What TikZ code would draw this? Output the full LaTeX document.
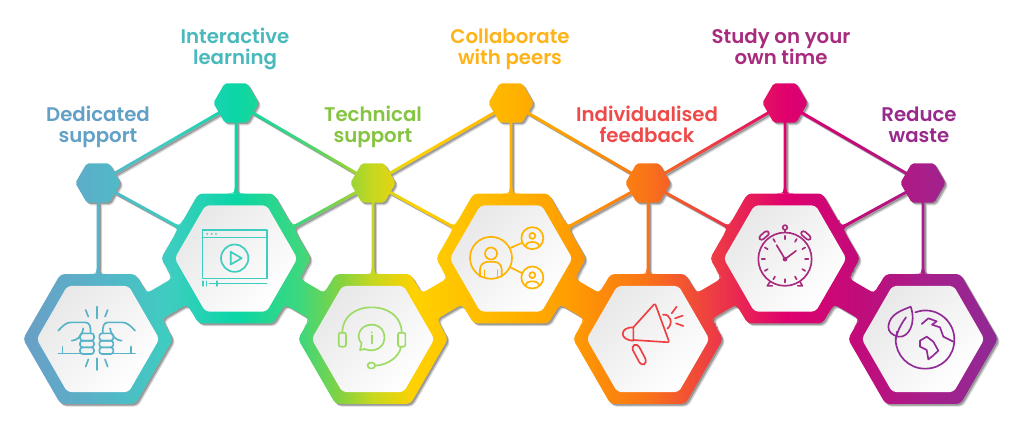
\documentclass[tikz,border=0pt]{standalone}
\usepackage{fontspec}
\newfontfamily\labelfont{Poppins SemiBold}
\usetikzlibrary{calc, shapes.geometric}

% Colours of the band, left to right
\definecolor{bandA}{HTML}{6A9FC6}
\definecolor{bandB}{HTML}{57B3C8}
\definecolor{bandC}{HTML}{3ECDC0}
\definecolor{bandD}{HTML}{0AD6A6}
\definecolor{bandE}{HTML}{3DD77E}
\definecolor{bandF}{HTML}{85D23F}
\definecolor{bandG}{HTML}{C5D820}
\definecolor{bandH}{HTML}{FFD100}
\definecolor{bandI}{HTML}{FFB300}
\definecolor{bandJ}{HTML}{FF9D00}
\definecolor{bandK}{HTML}{F97318}
\definecolor{bandL}{HTML}{EE3F42}
\definecolor{bandM}{HTML}{E0006E}
\definecolor{bandN}{HTML}{C00C7A}
\definecolor{bandO}{HTML}{A81F8A}
\definecolor{bandP}{HTML}{8F2A96}
% Colours of the labels
\definecolor{tagA}{HTML}{62A0C6}
\definecolor{tagB}{HTML}{4AB9BC}
\definecolor{tagC}{HTML}{85C441}
\definecolor{tagD}{HTML}{FFB31A}
\definecolor{tagE}{HTML}{EF4A4A}
\definecolor{tagF}{HTML}{A82C7E}
\definecolor{tagG}{HTML}{982A8C}
\pgfdeclarehorizontalshading{bandgrad}{100bp}{color(0bp)=(bandA); color(25bp)=(bandA);
	color(28.85bp)=(bandB); color(32.5bp)=(bandC); color(35.9bp)=(bandD); color(39.2bp)=(bandE);
	color(41.3bp)=(bandF); color(42.9bp)=(bandG); color(45.1bp)=(bandH); color(50bp)=(bandI);
	color(53bp)=(bandJ); color(57bp)=(bandK); color(60.2bp)=(bandL); color(64.1bp)=(bandM);
	color(67.9bp)=(bandN); color(71.2bp)=(bandO); color(75bp)=(bandP); color(100bp)=(bandP)}

\tikzset{
	hexbase/.style={regular polygon, regular polygon sides=6, inner sep=0pt, outer sep=0pt},
	rimhex/.style={hexbase, minimum size=112.5pt},
	capshex/.style={hexbase, minimum size=34pt},
	facehex/.style={hexbase, minimum size=92pt, rounded corners=3pt, left color=black!9, right color=white, shading angle=45},
	tag/.style={align=center, text height=12pt, text depth=20pt, inner sep=0pt, font=\labelfont\fontsize{14.8}{16}\selectfont},
	iconline/.style={line width=1.25pt, line cap=round, line join=round, draw=#1},
	zoomicon/.style n args={3}{shift={(#1.center)}, x=.25pt, y=-.25pt, shift={(-#2,-#3)}}
}

% one straight bar, counter-clockwise
\newcommand{\barlink}[3]{
	($(#1)!#3!-90:(#2)$) -- ($(#2)!#3!90:(#1)$) -- ($(#2)!#3!-90:(#1)$) -- ($(#1)!#3!90:(#2)$) -- cycle
}
% concave foot of a bar on a rim hexagon: hexagon, other end, half width, half base
\newcommand{\barfoot}[4]{
	($(#1)!49pt!(#2)!#4!-90:(#2)$) .. controls ($(#1)!49pt!(#2)!#3!-90:(#2)$) .. ($(#1)!55pt!(#2)!#3!-90:(#2)$)
	-- ($(#1)!55pt!(#2)!#3!90:(#2)$) .. controls ($(#1)!49pt!(#2)!#3!90:(#2)$) .. ($(#1)!49pt!(#2)!#4!90:(#2)$) -- cycle
}
\newcommand{\hexrim}[2]{
	[rounded corners=#2] (#1.corner 1) -- (#1.corner 2) -- (#1.corner 3) -- (#1.corner 4) -- (#1.corner 5) -- (#1.corner 6) -- cycle [sharp corners]
}
\newcommand{\bandoutline}{
	foreach \h in {fistRim,videoRim,phoneRim,peersRim,hornRim,clockRim,earthRim} {\hexrim{\h}{3pt}}
	foreach \h in {capA,capB,capC,capD,capE,capF,capG} {\hexrim{\h}{1.5pt}}
	foreach \p/\q in {capA/capB,capB/capC,capC/capD,capD/capE,capE/capF,capF/capG,
		capA/fistRim,capB/videoRim,capC/phoneRim,capD/peersRim,capE/hornRim,capF/clockRim,capG/earthRim,
		capA/videoRim,capC/videoRim,capC/peersRim,capE/peersRim,capE/clockRim,capG/clockRim} {\barlink{\p}{\q}{1.1pt}}
	foreach \p/\q in {fistRim/capA,videoRim/capB,phoneRim/capC,peersRim/capD,hornRim/capE,clockRim/capF,earthRim/capG,
		videoRim/capA,videoRim/capC,peersRim/capC,peersRim/capE,clockRim/capE,clockRim/capG} {\barfoot{\p}{\q}{1.1pt}{6pt}}
	foreach \p/\q in {fistRim/videoRim,videoRim/phoneRim,phoneRim/peersRim,peersRim/hornRim,hornRim/clockRim,clockRim/earthRim} {
		\barlink{\p}{\q}{11.2pt} \barfoot{\p}{\q}{11.2pt}{19pt} \barfoot{\q}{\p}{11.2pt}{19pt}}
}

\begin{document}
\begin{tikzpicture}[x=.75pt, y=.75pt]
	\useasboundingbox (0,0) rectangle (1024,437);

	% Hexagons, still invisible
	\foreach \n/\x in {fistRim/98, phoneRim/373, hornRim/648, earthRim/923} {\node[rimhex] (\n) at (\x,98) {};}
	\foreach \n/\x in {videoRim/236, peersRim/511, clockRim/785} {\node[rimhex] (\n) at (\x,178.5) {};}
	\foreach \n/\x in {capA/98, capC/373, capE/648, capG/923} {\node[capshex] (\n) at (\x,254) {};}
	\foreach \n/\x in {capB/236, capD/511, capF/785} {\node[capshex] (\n) at (\x,334) {};}

	% Shadow, then the band
	\fill[black!55, opacity=.3, transform canvas={xshift=2pt, yshift=-2pt}] \bandoutline;
	\fill[black!55, opacity=.6, transform canvas={xshift=1.2pt, yshift=-1.2pt}] \bandoutline;
	\shade[shading=bandgrad] \bandoutline;

	% White faces
	\node[facehex] (fist) at (fistRim) {};
	\node[facehex] (video) at (videoRim) {};
	\node[facehex] (phone) at (phoneRim) {};
	\node[facehex] (peers) at (peersRim) {};
	\node[facehex] (horn) at (hornRim) {};
	\node[facehex] (clock) at (clockRim) {};
	\node[facehex] (earth) at (earthRim) {};

	% Labels
	\node[tag, text=tagA] (lblA) at (98,289) {Dedicated\\support};
	\node[tag, text=tagB] (lblB) at (235,367) {Interactive\\learning};
	\node[tag, text=tagC] (lblC) at (373,289) {Technical\\support};
	\node[tag, text=tagD] (lblD) at (510,367) {Collaborate\\with peers};
	\node[tag, text=tagE] (lblE) at (647,289) {Individualised\\feedback};
	\node[tag, text=tagF] (lblF) at (781,367) {Study on your\\own time};
	\node[tag, text=tagG] (lblG) at (919,289) {Reduce\\waste};

	% Fists
	\begin{scope}[zoomicon={fist}{294}{807}, iconline=bandB]
		\draw (290,710) -- (290,745) (290,865) -- (290,900);
		\foreach \s in {1,-1} {
			\begin{scope}[shift={(290,0)}, xscale=\s]
				\draw (-33,720) -- (-25,740) (-33,890) -- (-25,868);
				\draw (-115,850) -- (-50,850) (-103,830) -- (-103,850);
				\draw (-115,782) .. controls (-100,765) and (-90,757) .. (-75,757) -- (-35,757) .. controls (-20,757) and (-18,770) .. (-18,790);
				\draw (-75,812) .. controls (-60,812) and (-45,800) .. (-40,775);
				\draw[rounded corners=2pt] (-50,790) rectangle (-8,812);
				\draw[rounded corners=2pt] (-50,812) rectangle (-8,832);
				\draw[rounded corners=2pt] (-50,832) rectangle (-8,852);
			\end{scope}
		}
	\end{scope}

	% Video window
	\begin{scope}[zoomicon={video}{708}{565}, iconline=bandC]
		\draw (607,480) rectangle (800,625) (607,502) -- (800,502);
		\foreach \x in {622,635,648} {\fill[bandC] (\x,491) circle[radius=3];}
		\draw (704,564) circle[radius=41];
		\draw (692,545) -- (692,583) -- (725,564) -- cycle;
		\draw (609,633) -- (609,647) (619,633) -- (619,647) (628,640) -- (800,640) (651,633) -- (651,647);
	\end{scope}

	% Headset
	\begin{scope}[zoomicon={phone}{219}{567}, iconline=bandF!80!white]
		\draw (127,548) .. controls (127,500) and (165,472) .. (215,472) .. controls (265,472) and (305,500) .. (305,548);
		\draw[rounded corners=1.5pt] (116,548) rectangle (138,590);
		\draw[rounded corners=1.5pt] (294,548) rectangle (316,590);
		\draw (194,597) .. controls (210,605) and (235,602) .. (247,585) .. controls (262,560) and (250,524) .. (215,524) .. controls (180,524) and (165,560) .. (185,580) -- (180,600) -- cycle;
		\draw (215,556) -- (215,580);
		\fill[bandF!80!white] (215,547) circle[radius=3];
		\draw (303,590) .. controls (298,620) and (265,645) .. (225,647);
		\draw[rounded corners=2pt] (203,638) rectangle (225,655);
	\end{scope}

	% People
	\begin{scope}[zoomicon={peers}{633}{325}, iconline=bandI]
		\draw (573,323) circle[radius=63] (573,310) circle[radius=18];
		\draw (540,380) -- (540,358) .. controls (540,345) and (550,335) .. (563,335) -- (583,335) .. controls (596,335) and (605,345) .. (605,358) -- (605,380);
		\draw (553,360) -- (553,382) (592,360) -- (592,382);
		\draw (632,293) -- (664,279) (632,352) -- (664,368);
		\foreach \y in {264,382} {
			\draw (697,\y) circle[radius=33] (697,\y-7) circle[radius=9];
			\draw (678,\y+22) .. controls (678,\y+8) and (716,\y+8) .. (716,\y+22);
		}
	\end{scope}

	% Megaphone
	\begin{scope}[zoomicon={horn}{234}{567}, iconline=bandL]
		\draw[rounded corners=1.5pt] (190,532) -- (255,460) -- (298,577) -- (190,570);
		\draw (190,532) .. controls (150,530) and (145,570) .. (190,572) -- cycle;
		\draw[rounded corners=3pt] (183,590) -- (202,580) -- (232,637) -- (214,648) -- cycle;
		\draw (279,494) .. controls (300,490) and (312,520) .. (292,536);
		\draw (305,490) -- (320,470) (315,505) -- (338,497) (318,520) -- (340,528);
	\end{scope}

	% Alarm clock
	\begin{scope}[zoomicon={clock}{645}{325}, iconline=tagF]
		\draw (645,327) circle[radius=80] (645,232) circle[radius=7] (645,240) -- (645,248);
		\draw[rounded corners=2pt] (565,262) -- (590,240) -- (600,250) -- (574,272) -- cycle;
		\draw[rounded corners=2pt] (725,262) -- (700,240) -- (690,250) -- (716,272) -- cycle;
		\draw (600,395) -- (592,407) -- (607,407) (690,395) -- (697,407) -- (683,407);
		\foreach \a in {0,30,...,330} {\draw ($(645,327)+(\a:60)$) -- ($(645,327)+(\a:70)$);}
		\draw (645,327) -- (620,285) (645,327) -- (678,302);
		\fill[tagF] (645,327) circle[radius=7];
	\end{scope}

	% Earth and leaf
	\begin{scope}[zoomicon={earth}{1059}{567}, iconline=bandP]
		\draw (1036,487) .. controls (1095,465) and (1153,510) .. (1153,568) .. controls (1153,620) and (1115,656) .. (1065,656) .. controls (1015,656) and (977,615) .. (977,568) -- (981,545);
		\draw (1022,470) .. controls (1000,480) and (958,490) .. (955,530) .. controls (955,545) and (965,555) .. (985,560) .. controls (1015,565) and (1040,520) .. (1022,470) -- cycle;
		\draw (1008,502) .. controls (995,520) and (985,535) .. (977,568);
		\draw (1055,522) -- (1075,505) -- (1100,514) -- (1086,524) -- (1110,532) -- (1120,560) -- (1150,575);
		\draw (1050,572) -- (1070,560) -- (1090,575) -- (1105,602) -- (1088,618) -- (1075,628) -- (1070,600) -- (1050,590) -- cycle;
	\end{scope}
\end{tikzpicture}
\end{document}
